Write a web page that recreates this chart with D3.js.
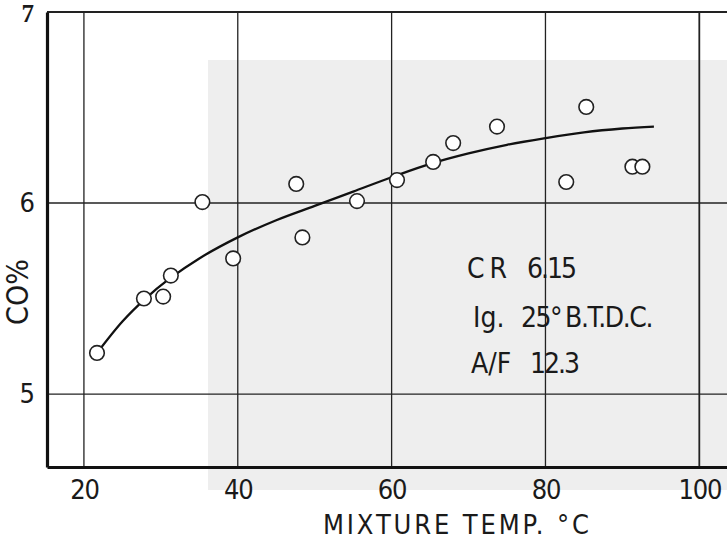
<!DOCTYPE html>
<html>
<head>
<meta charset="utf-8">
<script src="https://cdn.jsdelivr.net/npm/d3@7"></script>
<style>
  html, body { margin: 0; padding: 0; background: #ffffff; }
  svg { display: block; }
  .lbl { font-family: 'Liberation Sans Narrow', 'DejaVu Sans Condensed', 'Roboto', sans-serif; fill: #1a1a1a; }
</style>
</head>
<body>
<svg id="chart" width="727" height="539"></svg>
<script>
// Measured points: mixture temperature (°C) vs CO (%)
const mixtureTemp = [21.7, 27.8, 30.3, 31.3, 35.4, 39.4, 47.6, 48.4, 55.5, 60.7, 65.4, 68.0, 73.7, 82.7, 85.3, 91.3, 92.6];
const coPercent   = [5.215, 5.50, 5.51, 5.62, 6.005, 5.71, 6.10, 5.82, 6.01, 6.12, 6.215, 6.314, 6.40, 6.11, 6.503, 6.19, 6.19];

// Fitted trend curve
const curveTemp = [21.7, 25, 28, 31, 35, 40, 45, 50, 55, 60, 65, 70, 75, 80, 85, 90, 94.1];
const curveCO   = [5.215, 5.38, 5.50, 5.60, 5.71, 5.82, 5.91, 5.985, 6.06, 6.135, 6.205, 6.26, 6.305, 6.34, 6.37, 6.39, 6.40];

// Axis ticks
const xTicks = [20, 40, 60, 80, 100];
const yTicks = [5, 6, 7];

// Test conditions, one line per entry, split into words
const notes = [["CR", "6.15"], ["Ig.", "25°", "B.T.D.C."], ["A/F", "12.3"]];

const svg = d3.select("#chart");
const plotL = 47, plotR = 727, plotT = 12, plotB = 467;

const x = d3.scaleLinear().domain([15.2, 103.6]).range([plotL, plotR]);
const y = d3.scaleLinear().domain([4.618, 7]).range([plotB, plotT]);

// paper tone on the right part of the page
svg.append("rect").attr("x", 208).attr("y", 60).attr("width", 519).attr("height", 430)
  .attr("fill", "#eeeeee");

// vertical grid lines
svg.append("g").selectAll("line").data(xTicks).join("line")
  .attr("x1", d => x(d)).attr("x2", d => x(d))
  .attr("y1", plotT).attr("y2", plotB)
  .attr("stroke", "#222").attr("stroke-width", d => d === 100 ? 1.8 : 1.3);

// horizontal grid lines (7 is the top frame)
svg.append("g").selectAll("line").data(yTicks.filter(d => d < 7)).join("line")
  .attr("x1", plotL).attr("x2", plotR)
  .attr("y1", d => y(d)).attr("y2", d => y(d))
  .attr("stroke", "#222").attr("stroke-width", 1.3);

// top frame
svg.append("line").attr("x1", plotL).attr("x2", plotR).attr("y1", y(7)).attr("y2", y(7))
  .attr("stroke", "#222").attr("stroke-width", 2);

// axes
const xAxis = d3.axisBottom(x).tickValues(xTicks).tickSize(0).tickPadding(13).tickFormat(d3.format("d"));
const gx = svg.append("g").attr("transform", `translate(0,${plotB})`).call(xAxis);
gx.select(".domain").attr("stroke", "#111").attr("stroke-width", 3.2);
gx.selectAll("text").attr("class", "lbl").attr("font-size", 27).attr("letter-spacing", -1.2)
  .attr("fill", "#1a1a1a");

const yAxis = d3.axisLeft(y).tickValues(yTicks).tickSize(0).tickPadding(12).tickFormat(d3.format("d"));
const gy = svg.append("g").attr("transform", `translate(${plotL},0)`).call(yAxis);
gy.select(".domain").attr("stroke", "#111").attr("stroke-width", 3.2);
gy.selectAll("text").attr("class", "lbl").attr("font-size", 27).attr("fill", "#1a1a1a");
gy.selectAll(".tick").filter(d => d === 7).select("text")
  .style("font-family", "'Liberation Serif', serif").attr("font-weight", "bold").attr("font-size", 25)
  .attr("dy", "0.36em").attr("x", -13);

// axis titles
svg.append("text").attr("class", "lbl").attr("x", 456).attr("y", 534)
  .attr("text-anchor", "middle").attr("font-size", 27)
  .attr("textLength", 266).attr("lengthAdjust", "spacing").text("MIXTURE TEMP. °C");
svg.append("text").attr("class", "lbl")
  .attr("transform", "translate(28,292) rotate(-90)")
  .attr("text-anchor", "middle").attr("font-size", 30).text("CO%");

// trend curve
const line = d3.line().x(d => x(d[0])).y(d => y(d[1])).curve(d3.curveCatmullRom.alpha(0.5));
svg.append("path").datum(curveTemp.map((t, i) => [t, curveCO[i]]))
  .attr("d", line).attr("fill", "none").attr("stroke", "#111").attr("stroke-width", 2.3);

// data points
svg.append("g").selectAll("circle").data(mixtureTemp.map((t, i) => [t, coPercent[i]])).join("circle")
  .attr("cx", d => x(d[0])).attr("cy", d => y(d[1])).attr("r", 7.3)
  .attr("fill", "#fff").attr("stroke", "#222").attr("stroke-width", 1.6);

// test conditions: word start positions and letter spacing per line
const noteY = [278, 327, 373];
const wordX = [[467, 527], [473, 521, 565], [471, 530]];
const wordLS = [[5, -2], [0, -1.5, -1.4], [0, -2]];
const noteG = svg.append("g");
notes.forEach((words, i) => {
  const t = noteG.append("text").attr("class", "lbl").attr("y", noteY[i]).attr("font-size", 28);
  words.forEach((w, j) => {
    t.append("tspan").attr("x", wordX[i][j]).attr("letter-spacing", wordLS[i][j]).text(w);
  });
});
</script>
</body>
</html>
